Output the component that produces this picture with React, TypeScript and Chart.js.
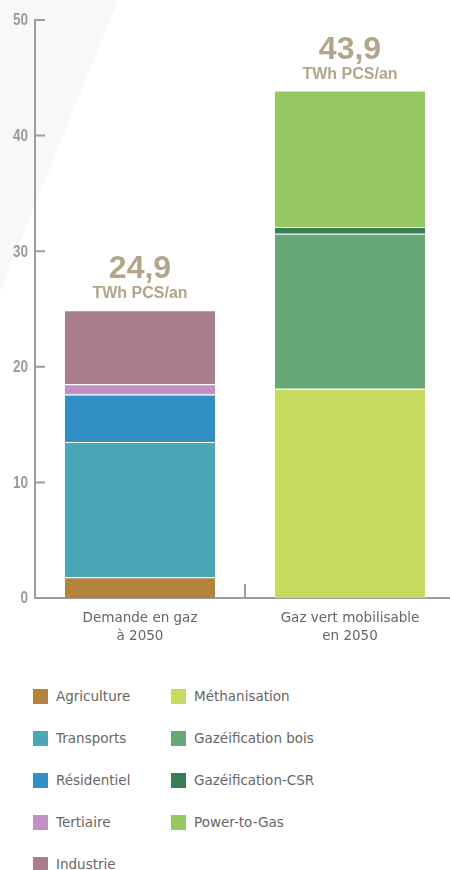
import React, { useEffect, useRef } from 'react';
import { Chart, registerables } from 'chart.js';

Chart.register(...registerables);

// ---- Data ----
const categories: string[][] = [
  ['Demande en gaz', 'à 2050'],
  ['Gaz vert mobilisable', 'en 2050'],
];
const agriculture = [1.8, null];
const transports = [11.7, null];
const residentiel = [4.1, null];
const tertiaire = [0.9, null];
const industrie = [6.4, null];
const methanisation = [null, 18.1];
const gazeificationBois = [null, 13.4];
const gazeificationCSR = [null, 0.6];
const powerToGas = [null, 11.8];
const yTickValues = [0, 10, 20, 30, 40, 50];
const unitLabel = 'TWh PCS/an';

const demandSeries = [
  { label: 'Agriculture', data: agriculture, color: '#B5843C' },
  { label: 'Transports', data: transports, color: '#4BA7B5' },
  { label: 'Résidentiel', data: residentiel, color: '#3191C7' },
  { label: 'Tertiaire', data: tertiaire, color: '#C290C4' },
  { label: 'Industrie', data: industrie, color: '#A97F8D' },
];
const supplySeries = [
  { label: 'Méthanisation', data: methanisation, color: '#C5DA5F' },
  { label: 'Gazéification bois', data: gazeificationBois, color: '#67A877' },
  { label: 'Gazéification-CSR', data: gazeificationCSR, color: '#377E52' },
  { label: 'Power-to-Gas', data: powerToGas, color: '#96C962' },
];

const AXIS_COLOR = '#9d9d9d';
const LABEL_FONT = '"DejaVu Sans", sans-serif';

const backgroundPlugin = {
  id: 'bgTriangle',
  beforeDraw(chart: any) {
    const { ctx } = chart;
    ctx.save();
    ctx.fillStyle = '#f8f8f8';
    ctx.beginPath();
    ctx.moveTo(0, 0);
    ctx.lineTo(118, 0);
    ctx.lineTo(0, 292);
    ctx.closePath();
    ctx.fill();
    ctx.restore();
  },
};

const axesPlugin = {
  id: 'customAxes',
  beforeDatasetsDraw(chart: any) {
    const { ctx, chartArea, scales } = chart;
    const x = scales.x;
    const y = scales.y;
    const left = chartArea.left;
    const y0 = y.getPixelForValue(0);
    ctx.save();
    ctx.strokeStyle = AXIS_COLOR;
    ctx.lineWidth = 2;
    ctx.beginPath();
    ctx.moveTo(left, y.getPixelForValue(yTickValues[yTickValues.length - 1]) - 1);
    ctx.lineTo(left, y0 + 1);
    yTickValues.forEach((v) => {
      const py = y.getPixelForValue(v);
      ctx.moveTo(left, py);
      ctx.lineTo(left + 10, py);
    });
    ctx.moveTo(left, y0);
    ctx.lineTo(chart.width, y0);
    for (let i = 0; i < categories.length - 1; i++) {
      const sx = (x.getPixelForValue(i) + x.getPixelForValue(i + 1)) / 2;
      ctx.moveTo(sx, y0);
      ctx.lineTo(sx, y0 - 14);
    }
    ctx.stroke();

    // condensed y tick labels, taken from the library's own ticks
    ctx.fillStyle = '#9a9a9a';
    ctx.font = 'bold 16px "Liberation Sans", Arial, sans-serif';
    ctx.textAlign = 'right';
    ctx.textBaseline = 'middle';
    y.ticks.forEach((t: any) => {
      const py = y.getPixelForValue(t.value);
      ctx.save();
      ctx.translate(left - 7, py + 1);
      ctx.scale(0.84, 1);
      ctx.fillText(String(t.label), 0, 0);
      ctx.restore();
    });
    ctx.restore();
  },
};

const totalsPlugin = {
  id: 'totals',
  afterDatasetsDraw(chart: any) {
    const { ctx, scales } = chart;
    const x = scales.x;
    const y = scales.y;
    ctx.save();
    ctx.fillStyle = '#B2A58A';
    ctx.textAlign = 'center';
    ctx.textBaseline = 'alphabetic';
    categories.forEach((_, i) => {
      let total = 0;
      chart.data.datasets.forEach((ds: any) => {
        const v = ds.data[i];
        if (typeof v === 'number') total += v;
      });
      const px = x.getPixelForValue(i);
      const py = y.getPixelForValue(total);
      ctx.font = 'bold 32px "Liberation Sans", Arial, sans-serif';
      ctx.fillText(total.toFixed(1).replace('.', ','), px, py - 32);
      ctx.font = 'bold 16px "Liberation Sans", Arial, sans-serif';
      ctx.fillText(unitLabel, px, py - 12);
    });
    ctx.restore();
  },
};

function LegendColumn({ items, left }: { items: typeof demandSeries; left: number }) {
  return (
    <div style={{ position: 'absolute', left, top: 689 }}>
      {items.map((s) => (
        <div
          key={s.label}
          style={{ display: 'flex', alignItems: 'center', height: 15, marginBottom: 27 }}
        >
          <div style={{ width: 15, height: 15, background: s.color, marginRight: 8, flex: '0 0 auto' }} />
          <span
            style={{
              fontFamily: LABEL_FONT,
              fontSize: 13.5,
              color: '#666666',
              lineHeight: '15px',
              whiteSpace: 'nowrap',
            }}
          >
            {s.label}
          </span>
        </div>
      ))}
    </div>
  );
}

export default function App() {
  const canvasRef = useRef<HTMLCanvasElement | null>(null);

  useEffect(() => {
    if (!canvasRef.current) return;
    const all = [...demandSeries, ...supplySeries];
    const chart = new Chart(canvasRef.current, {
      type: 'bar',
      data: {
        labels: categories as any,
        datasets: all.map((s) => ({
          label: s.label,
          data: s.data as any,
          backgroundColor: s.color,
          borderColor: 'rgba(255,255,255,0.9)',
          borderWidth: { top: 1, bottom: 0, left: 0, right: 0 },
          borderSkipped: false,
          stack: 'total',
          barPercentage: 150 / 210,
          categoryPercentage: 1,
        })),
      },
      options: {
        responsive: false,
        animation: false,
        layout: { padding: { top: 20, right: 5, left: 0, bottom: 0 } },
        plugins: {
          legend: { display: false },
          tooltip: { enabled: false },
        },
        scales: {
          x: {
            stacked: true,
            offset: true,
            grid: { display: false, drawTicks: false },
            border: { display: false },
            ticks: {
              padding: 12,
              maxRotation: 0,
              autoSkip: false,
              color: '#666666',
              font: { family: LABEL_FONT, size: 13.5, lineHeight: 1.3 },
            },
            afterFit(scale: any) {
              scale.height = 62;
            },
          },
          y: {
            stacked: true,
            min: 0,
            max: 50,
            grid: { display: false, drawTicks: false },
            border: { display: false },
            ticks: {
              stepSize: 10,
              display: false,
            },
            afterFit(scale: any) {
              scale.width = 35;
            },
          },
        },
      },
      plugins: [backgroundPlugin, axesPlugin, totalsPlugin],
    });
    return () => chart.destroy();
  }, []);

  return (
    <div style={{ position: 'absolute', left: 0, top: 0, width: 450, height: 870, overflow: 'hidden', background: '#fff' }}>
      <div style={{ position: 'absolute', left: 0, top: 0, width: 450, height: 660, overflow: 'hidden' }}>
        <canvas ref={canvasRef} width={460} height={660} style={{ display: 'block' }} />
      </div>
      <LegendColumn items={demandSeries} left={33} />
      <LegendColumn items={supplySeries} left={171} />
    </div>
  );
}
